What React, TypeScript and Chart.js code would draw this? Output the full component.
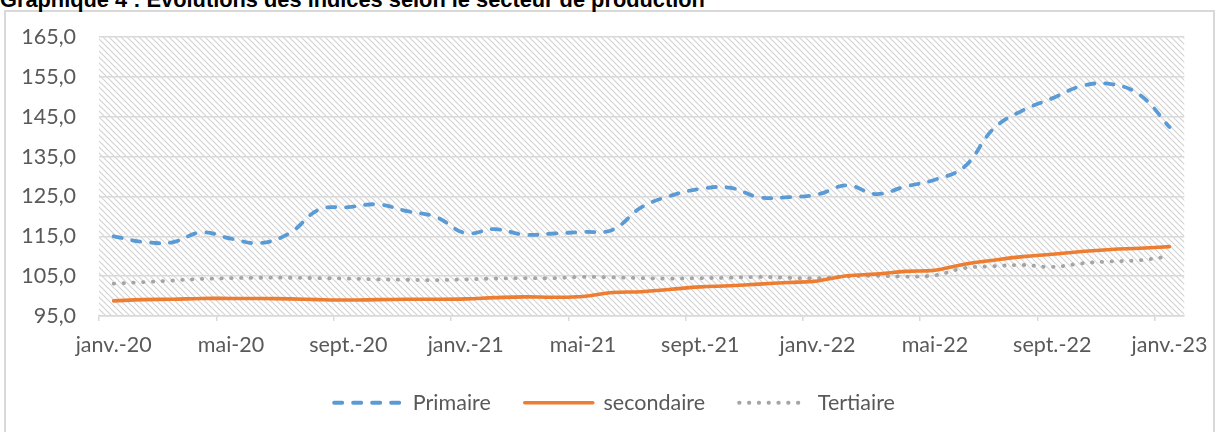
import { useEffect, useRef } from 'react';
import { Chart, registerables } from 'chart.js';

Chart.register(...registerables);

const categories = [
  'janv.-20', 'févr.-20', 'mars-20', 'avr.-20', 'mai-20', 'juin-20', 'juil.-20', 'août-20', 'sept.-20', 'oct.-20', 'nov.-20', 'déc.-20',
  'janv.-21', 'févr.-21', 'mars-21', 'avr.-21', 'mai-21', 'juin-21', 'juil.-21', 'août-21', 'sept.-21', 'oct.-21', 'nov.-21', 'déc.-21',
  'janv.-22', 'févr.-22', 'mars-22', 'avr.-22', 'mai-22', 'juin-22', 'juil.-22', 'août-22', 'sept.-22', 'oct.-22', 'nov.-22', 'déc.-22',
  'janv.-23',
];

const tickLabels = ['janv.-20', 'mai-20', 'sept.-20', 'janv.-21', 'mai-21', 'sept.-21', 'janv.-22', 'mai-22', 'sept.-22', 'janv.-23'];

const primaire = [
  115.0, 113.6, 113.5, 116.0, 114.4, 113.3, 115.8, 121.7, 122.3, 123.0, 121.3, 119.8,
  115.8, 116.8, 115.4, 115.7, 116.1, 116.6, 122.3, 125.2, 126.9, 127.2, 124.8, 124.8,
  125.5, 127.8, 125.6, 127.5, 129.2, 132.4, 142.0, 146.6, 149.6, 152.7, 153.2, 150.4,
  142.4,
];

const secondaire = [
  98.8, 99.1, 99.2, 99.4, 99.4, 99.4, 99.3, 99.1, 99.0, 99.1, 99.2, 99.2,
  99.3, 99.6, 99.8, 99.7, 99.9, 100.9, 101.1, 101.7, 102.3, 102.6, 103.0, 103.4,
  103.8, 105.1, 105.5, 106.2, 106.5, 108.0, 109.0, 109.9, 110.5, 111.2, 111.7, 112.0,
  112.4,
];

const tertiaire = [
  103.1, 103.5, 103.9, 104.3, 104.5, 104.6, 104.6, 104.5, 104.4, 104.2, 104.1, 104.0,
  104.2, 104.4, 104.5, 104.5, 104.8, 104.7, 104.5, 104.4, 104.5, 104.6, 104.8, 104.6,
  104.5, 104.9, 105.1, 104.9, 105.2, 107.0, 107.5, 107.8, 107.3, 108.2, 108.7, 109.0,
  110.0,
];

const seriesNames = ['Primaire', 'secondaire', 'Tertiaire'];

const FONT = 'Lato, "Noto Sans", sans-serif';
const TEXT = '#595959';
const GRID = '#d9d9d9';

const hatchPlugin = {
  id: 'hatch',
  beforeDraw(chart: any) {
    const { ctx, chartArea: a } = chart;
    const tile = document.createElement('canvas');
    tile.width = 6;
    tile.height = 6;
    const t = tile.getContext('2d')!;
    t.strokeStyle = '#d3d3d3';
    t.lineWidth = 1.2;
    for (const k of [-6, 0, 6]) {
      t.beginPath();
      t.moveTo(k - 1, -1);
      t.lineTo(k + 7, 7);
      t.stroke();
    }
    const pat = ctx.createPattern(tile, 'repeat');
    ctx.save();
    ctx.fillStyle = pat;
    ctx.fillRect(a.left, a.top, a.right - a.left, a.bottom - a.top);
    ctx.restore();
  },
};

export default function App() {
  const ref = useRef<HTMLCanvasElement>(null);

  useEffect(() => {
    const canvas = ref.current!;
    const chart = new Chart(canvas, {
      type: 'line',
      data: {
        labels: categories,
        datasets: [
          {
            label: seriesNames[0],
            data: primaire,
            borderColor: '#5B9BD5',
            backgroundColor: '#5B9BD5',
            borderWidth: 3.8,
            borderDash: [8.2, 10.8],
            borderCapStyle: 'round',
            pointRadius: 0,
            tension: 0.4,
            fill: false,
          },
          {
            label: seriesNames[1],
            data: secondaire,
            borderColor: '#ED7D31',
            backgroundColor: '#ED7D31',
            borderWidth: 3.6,
            borderCapStyle: 'round',
            pointRadius: 0,
            tension: 0.4,
            fill: false,
          },
          {
            label: seriesNames[2],
            data: tertiaire,
            borderColor: '#A5A5A5',
            backgroundColor: '#A5A5A5',
            borderWidth: 3.8,
            borderDash: [0.5, 9.3],
            borderCapStyle: 'round',
            pointRadius: 0,
            tension: 0.4,
            fill: false,
          },
        ],
      },
      options: {
        animation: false,
        responsive: false,
        layout: { padding: { top: 37, right: 0, bottom: 8.5, left: 10 } },
        plugins: {
          tooltip: { enabled: false },
          legend: {
            position: 'bottom',
            labels: {
              usePointStyle: true,
              pointStyle: 'line',
              pointStyleWidth: 68,
              padding: 34,
              color: TEXT,
              font: { family: FONT, size: 21.5 },
              generateLabels: (c: any) =>
                c.data.datasets.map((ds: any, i: number) => ({
                  text: ds.label,
                  fillStyle: ds.borderColor,
                  strokeStyle: ds.borderColor,
                  lineWidth: ds.borderWidth,
                  lineDash: ds.borderDash || [],
                  lineCap: ds.borderCapStyle,
                  pointStyle: 'line',
                  hidden: false,
                  datasetIndex: i,
                  fontColor: TEXT,
                })),
            },
          },
        },
        scales: {
          x: {
            offset: true,
            grid: {
              offset: true,
              drawOnChartArea: false,
              drawTicks: true,
              tickLength: 5,
              lineWidth: 1.5,
              color: (ctx: any) => (tickLabels.includes(categories[ctx.index]) ? GRID : 'rgba(0,0,0,0)'),
            },
            border: { display: true, color: GRID, width: 1.5 },
            ticks: {
              autoSkip: false,
              maxRotation: 0,
              minRotation: 0,
              padding: 11,
              color: TEXT,
              font: { family: FONT, size: 21.5 },
              callback: (_v: any, i: number) => (tickLabels.includes(categories[i]) ? categories[i] : ''),
            },
            afterFit: (s: any) => {
              s.height = 42;
            },
          },
          y: {
            min: 95,
            max: 165,
            ticks: {
              stepSize: 10,
              padding: 23,
              color: TEXT,
              font: { family: FONT, size: 21.5 },
              callback: (v: any) => Number(v).toFixed(1).replace('.', ','),
            },
            grid: { color: GRID, lineWidth: 1.5, drawTicks: false },
            border: { display: false },
            afterFit: (s: any) => {
              s.width = 89;
            },
          },
          yr: {
            type: 'linear',
            position: 'right',
            display: true,
            grid: { display: false },
            ticks: { display: false },
            border: { display: false },
            afterFit: (s: any) => {
              s.width = 34;
            },
          },
        },
      },
      plugins: [hatchPlugin],
    } as any);
    return () => chart.destroy();
  }, []);

  return (
    <div
      style={{
        position: 'fixed',
        left: 0,
        top: 0,
        width: 1219,
        height: 432,
        overflow: 'hidden',
        background: '#ffffff',
      }}
    >
      <div
        style={{
          position: 'absolute',
          left: 4,
          top: 10,
          width: 1211,
          height: 440,
          border: '2px solid #d9d9d9',
          boxSizing: 'border-box',
        }}
      />
      <div
        style={{
          position: 'absolute',
          left: 0,
          top: -11.5,
          fontFamily: '"Liberation Sans", Arial, sans-serif',
          fontWeight: 'bold',
          fontSize: 21.8,
          lineHeight: '21.8px',
          color: '#000',
          whiteSpace: 'nowrap',
        }}
      >
        Graphique 4 : Evolutions des indices selon le secteur de production
      </div>
      <canvas
        ref={ref}
        width={1219}
        height={432}
        style={{ position: 'absolute', left: 0, top: 0, width: 1219, height: 432 }}
      />
    </div>
  );
}
